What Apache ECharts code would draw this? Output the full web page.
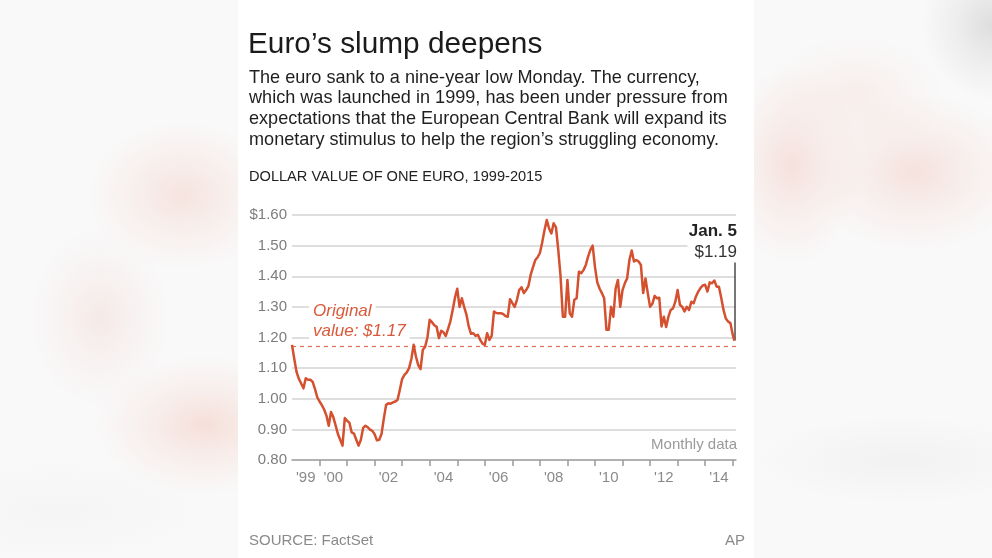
<!DOCTYPE html>
<html>
<head>
<meta charset="utf-8">
<script src="https://cdn.jsdelivr.net/npm/echarts@6/dist/echarts.min.js"></script>
<style>
  html, body { margin: 0; padding: 0; }
  body { width: 992px; height: 558px; overflow: hidden; position: relative; background: #f9f9f9; }
  #bg { position: absolute; left: 0; top: 0; width: 992px; height: 558px;
    background:
      radial-gradient(ellipse 95px 75px at 182px 195px, rgba(243,210,200,0.55), rgba(243,210,200,0.25) 50%, rgba(243,210,200,0) 100%),
      radial-gradient(ellipse 70px 90px at 100px 318px, rgba(240,214,210,0.45), rgba(240,214,210,0.2) 50%, rgba(240,214,210,0) 100%),
      radial-gradient(ellipse 110px 70px at 205px 425px, rgba(243,206,196,0.6), rgba(243,206,196,0.25) 50%, rgba(243,206,196,0) 100%),
      radial-gradient(ellipse 70px 100px at 792px 165px, rgba(243,208,200,0.6), rgba(243,208,200,0.25) 50%, rgba(243,208,200,0) 100%),
      radial-gradient(ellipse 90px 60px at 855px 95px, rgba(245,222,216,0.45), rgba(245,222,216,0.2) 50%, rgba(245,222,216,0) 100%),
      radial-gradient(ellipse 110px 80px at 915px 172px, rgba(243,210,202,0.6), rgba(243,210,202,0.25) 50%, rgba(243,210,202,0) 100%),
      radial-gradient(ellipse 70px 75px at 992px 25px, rgba(210,210,210,0.7), rgba(210,210,210,0.3) 50%, rgba(210,210,210,0) 100%),
      radial-gradient(ellipse 150px 45px at 900px 460px, rgba(232,232,232,0.45), rgba(232,232,232,0) 100%),
      radial-gradient(ellipse 150px 50px at 60px 510px, rgba(236,236,236,0.35), rgba(236,236,236,0) 100%),
      #f9f9f9;
  }
  #panel { position: absolute; left: 238px; top: 0; width: 516px; height: 558px; background: #ffffff; }
  #chart { position: absolute; left: 0; top: 0; width: 992px; height: 558px; }
</style>
</head>
<body>
<div id="bg"></div>
<div id="panel"></div>
<div id="chart"></div>
<script>
// ---- Data: dollar value of one euro, monthly (value at start of each month) ----
const firstYear = 1999;
const v1999 = [1.176, 1.13, 1.087, 1.065, 1.05, 1.034, 1.067, 1.062, 1.062, 1.055, 1.032, 1.005];
const v2000 = [0.991, 0.979, 0.965, 0.945, 0.912, 0.957, 0.94, 0.913, 0.885, 0.866, 0.847, 0.937];
const v2001 = [0.928, 0.922, 0.89, 0.886, 0.866, 0.847, 0.866, 0.905, 0.912, 0.907, 0.899, 0.895];
const v2002 = [0.884, 0.864, 0.866, 0.885, 0.935, 0.98, 0.985, 0.984, 0.988, 0.991, 0.997, 1.03];
const v2003 = [1.065, 1.078, 1.086, 1.10, 1.13, 1.176, 1.138, 1.11, 1.097, 1.16, 1.17, 1.20];
const v2004 = [1.258, 1.25, 1.24, 1.235, 1.198, 1.222, 1.217, 1.205, 1.228, 1.253, 1.29, 1.33];
const v2005 = [1.359, 1.30, 1.328, 1.30, 1.275, 1.236, 1.212, 1.214, 1.205, 1.209, 1.192, 1.18];
const v2006 = [1.176, 1.214, 1.192, 1.205, 1.285, 1.28, 1.279, 1.279, 1.277, 1.27, 1.268, 1.325];
const v2007 = [1.312, 1.30, 1.323, 1.355, 1.364, 1.345, 1.355, 1.368, 1.405, 1.43, 1.453, 1.462];
const v2008 = [1.476, 1.51, 1.55, 1.584, 1.556, 1.54, 1.573, 1.56, 1.486, 1.40, 1.268, 1.268];
const v2009 = [1.388, 1.279, 1.268, 1.323, 1.328, 1.415, 1.41, 1.42, 1.437, 1.464, 1.486, 1.50];
const v2010 = [1.43, 1.38, 1.36, 1.345, 1.328, 1.225, 1.225, 1.30, 1.268, 1.36, 1.388, 1.30];
const v2011 = [1.355, 1.377, 1.393, 1.453, 1.484, 1.448, 1.453, 1.448, 1.437, 1.345, 1.393, 1.345];
const v2012 = [1.30, 1.31, 1.336, 1.328, 1.33, 1.236, 1.268, 1.234, 1.268, 1.29, 1.295, 1.317];
const v2013 = [1.355, 1.307, 1.30, 1.285, 1.30, 1.29, 1.317, 1.312, 1.334, 1.35, 1.362, 1.37];
const v2014 = [1.372, 1.35, 1.38, 1.377, 1.386, 1.366, 1.366, 1.33, 1.29, 1.262, 1.252, 1.247];
const v2015 = [1.21];                 // Jan. 1, 2015
const lastDate = 2015.06;             // Jan. 5, 2015 (decimal year as drawn)
const lastValue = 1.19;
const originalValue = 1.17;
const annotationTop = 1.445;

const tickYears = [2000, 2001, 2002, 2003, 2004, 2005, 2006, 2007, 2008, 2009, 2010, 2011, 2012, 2013, 2014, 2015];
const labelYears = [1999, 2000, 2002, 2004, 2006, 2008, 2010, 2012, 2014];

const titleText = 'Euro\u2019s slump deepens';
const subtitleLines = [
  'The euro sank to a nine-year low Monday. The currency,',
  'which was launched in 1999, has been under pressure from',
  'expectations that the European Central Bank will expand its',
  'monetary stimulus to help the region\u2019s struggling economy.'
];
const chartLabel = 'DOLLAR VALUE OF ONE EURO, 1999-2015';
const sourceText = 'SOURCE: FactSet';
const creditText = 'AP';
const noteText = 'Monthly data';
const endDateText = 'Jan. 5';
const endValueText = '$1.19';
const originalLines = ['Original', 'value: $1.17'];

// ---- Build series ----
const monthly = [].concat(v1999, v2000, v2001, v2002, v2003, v2004, v2005, v2006,
  v2007, v2008, v2009, v2010, v2011, v2012, v2013, v2014, v2015);
const seriesData = monthly.map((v, i) => [firstYear + i / 12, v]);
seriesData.push([lastDate, lastValue]);

const FONT = "'Liberation Sans', Arial, Helvetica, sans-serif";
const RED = '#d4502e';

function txt(x, y, text, font, fill, align, extra) {
  return {
    type: 'text', x: x, y: y, z: 100,
    style: Object.assign({
      text: text, font: font, fill: fill,
      align: align || 'left', textAlign: align || 'left',
      verticalAlign: 'middle', textVerticalAlign: 'middle'
    }, extra || {})
  };
}

const graphics = [];
graphics.push(txt(248, 45, titleText, '29.8px ' + FONT, '#1b1b1b'));
subtitleLines.forEach((l, k) => graphics.push(txt(249, 77.5 + k * 20.7, l, '18.1px ' + FONT, '#1f1f1f')));
graphics.push(txt(249, 177, chartLabel, '14.6px ' + FONT, '#222222'));
graphics.push(txt(249, 541, sourceText, '15px ' + FONT, '#8a8a8a'));
graphics.push(txt(745, 541, creditText, '15px ' + FONT, '#8a8a8a', 'right'));
graphics.push(txt(737, 445, noteText, '15px ' + FONT, '#9a9a9a', 'right'));
graphics.push(txt(737, 231, endDateText, 'bold 17px ' + FONT, '#222222', 'right',
  { backgroundColor: '#ffffff', padding: [1, 0, 1, 6] }));
graphics.push(txt(737, 252.5, endValueText, '17px ' + FONT, '#333333', 'right',
  { backgroundColor: '#ffffff', padding: [1, 0, 1, 7] }));
originalLines.forEach((l, k) => graphics.push(txt(309, 311.5 + k * 20, l, 'italic 17px ' + FONT, '#d95a3a', 'left',
  { backgroundColor: '#ffffff', padding: [1, 4, 1, 4] })));

const chart = echarts.init(document.getElementById('chart'), null, { renderer: 'canvas' });
chart.setOption({
  animation: false,
  backgroundColor: 'transparent',
  textStyle: { fontFamily: FONT },
  grid: { left: 292, right: 256, top: 215, bottom: 98, containLabel: false },
  xAxis: {
    type: 'value', min: 1999, max: 2015.12,
    axisLine: { show: true, lineStyle: { color: '#a3a3a3', width: 1.5 } },
    axisTick: { show: true, customValues: tickYears, length: 6, lineStyle: { color: '#9a9a9a', width: 1.5 } },
    axisLabel: {
      show: true, customValues: labelYears.map(y => y + 0.5),
      formatter: v => "'" + String(Math.floor(v + 1e-6)).slice(2),
      color: '#8a8a8a', fontSize: 15, fontFamily: FONT, margin: 10
    },
    splitLine: { show: false }
  },
  yAxis: {
    type: 'value', min: 0.8, max: 1.6, interval: 0.1,
    axisLine: { show: false }, axisTick: { show: false },
    axisLabel: {
      formatter: v => (Math.abs(v - 1.6) < 1e-6 ? '$' : '') + v.toFixed(2),
      color: '#7d7d7d', fontSize: 15, fontFamily: FONT, margin: 5
    },
    splitLine: { show: true, lineStyle: { color: '#d3d3d3', width: 1.5 } }
  },
  series: [{
    type: 'line', data: seriesData, showSymbol: false, symbol: 'none',
    lineStyle: { color: RED, width: 2.5, join: 'round' },
    z: 5,
    markLine: {
      silent: true, symbol: 'none', animation: false,
      label: { show: false },
      data: [
        { yAxis: originalValue, lineStyle: { color: '#e0704f', type: [4, 4], width: 1.2 } },
        [ { coord: [lastDate, lastValue], lineStyle: { color: '#555555', type: 'solid', width: 1.6 } },
          { coord: [lastDate, annotationTop] } ]
      ]
    }
  }],
  graphic: graphics
});
</script>
</body>
</html>
